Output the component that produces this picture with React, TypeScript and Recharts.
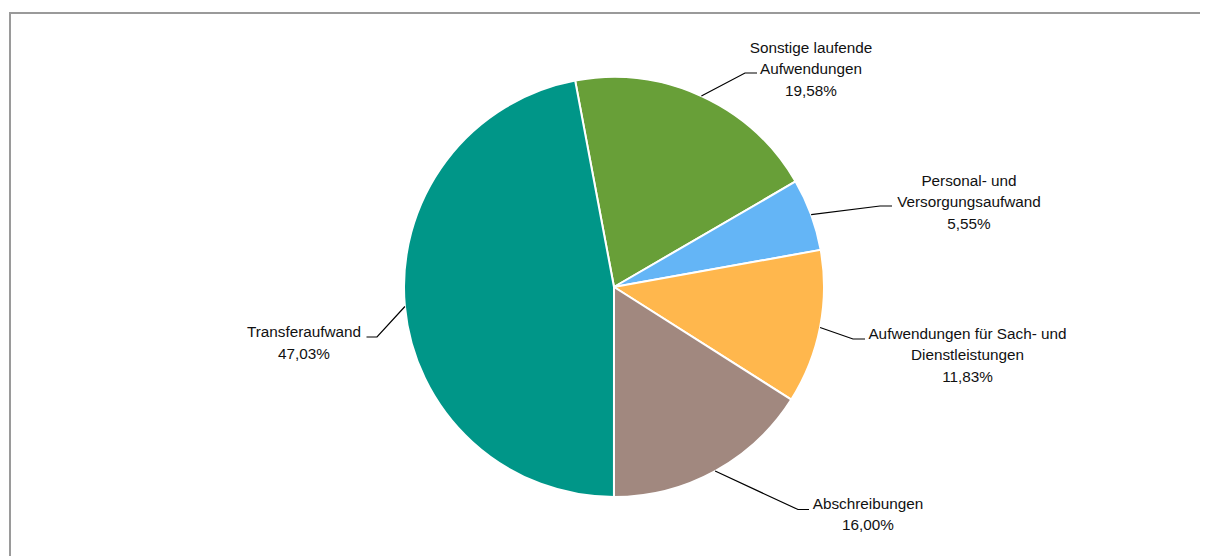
import React from "react";
import { PieChart, Pie, Cell } from "recharts";

const categories = [
  "Sonstige laufende\nAufwendungen",
  "Personal- und\nVersorgungsaufwand",
  "Aufwendungen für Sach- und\nDienstleistungen",
  "Abschreibungen",
  "Transferaufwand",
];
const shares = [19.58, 5.55, 11.83, 16.0, 47.03];
const colors = ["#689F38", "#64B5F6", "#FFB74D", "#A1887F", "#009688"];

// label layout, relative to pie centre: elbow dx/dy, horizontal tail, text centre x, first-line centre y
const labelLayout = [
  { ex: 131, ey: -214, tail: 12, tx: 197, ty: -240 },
  { ex: 266, ey: -81, tail: 12, tx: 355, ty: -107 },
  { ex: 239, ey: 52, tail: 12, tx: 353.5, ty: 46 },
  { ex: 184, ey: 222.5, tail: 11, tx: 254, ty: 216 },
  { ex: -237, ey: 50, tail: -10.5, tx: -310, ty: 44.7 },
];

const data = categories.map((name, i) => ({ name, value: shares[i] }));

const RAD = Math.PI / 180;
const LINE_H = 21.8;

const renderLabel = (props: any) => {
  const { cx, cy, midAngle, outerRadius, index, name, value } = props;
  const L = labelLayout[index];
  const sx = cx + outerRadius * Math.cos(-midAngle * RAD);
  const sy = cy + outerRadius * Math.sin(-midAngle * RAD);
  const ex = cx + L.ex;
  const ey = cy + L.ey;
  const lines = String(name).split("\n");
  lines.push(Number(value).toFixed(2).replace(".", ",") + "%");
  return (
    <g key={"lbl" + index}>
      <polyline
        points={`${sx},${sy} ${ex},${ey} ${ex + L.tail},${ey}`}
        fill="none"
        stroke="#000"
        strokeWidth={1.2}
      />
      {lines.map((t, j) => (
        <text
          key={j}
          x={cx + L.tx}
          y={cy + L.ty + j * LINE_H}
          textAnchor="middle"
          dominantBaseline="central"
          fontFamily="'Liberation Sans', Arial, sans-serif"
          fontSize={15.3}
          fill="#111"
        >
          {t}
        </text>
      ))}
    </g>
  );
};

export default function App() {
  return (
    <div style={{ position: "relative", width: 1200, height: 548 }}>
      <div style={{ position: "absolute", left: 1, top: 4, width: 1199, height: 2, background: "#9a9a9a" }} />
      <div style={{ position: "absolute", left: 1, top: 4, width: 2, height: 544, background: "#9a9a9a" }} />
      <div style={{ position: "absolute", left: 0, top: 0 }}>
        <PieChart width={1200} height={548} margin={{ top: 0, right: 0, bottom: 0, left: 0 }}>
          <Pie
            data={data}
            dataKey="value"
            nameKey="name"
            cx={606}
            cy={279}
            outerRadius={210}
            startAngle={100.66}
            endAngle={-259.34}
            stroke="#ffffff"
            strokeWidth={2}
            label={renderLabel}
            labelLine={false}
            isAnimationActive={false}
          >
            {data.map((_, i) => (
              <Cell key={i} fill={colors[i]} />
            ))}
          </Pie>
        </PieChart>
      </div>
    </div>
  );
}
